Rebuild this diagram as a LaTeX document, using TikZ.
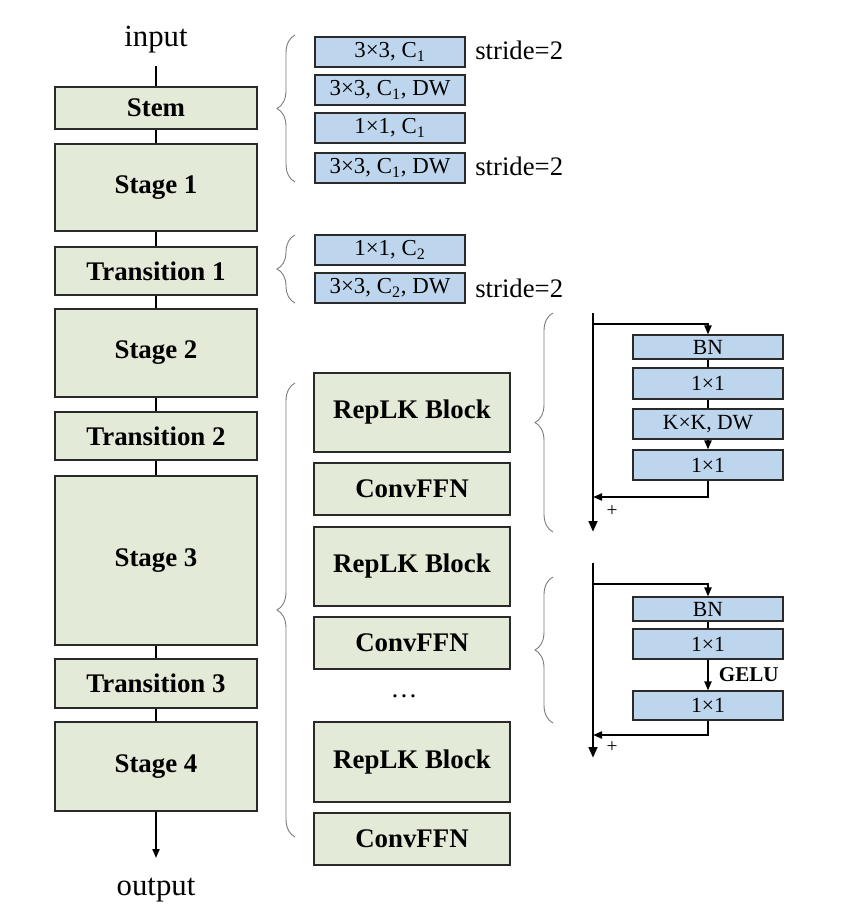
\documentclass[tikz,border=0pt]{standalone}
\usepackage{fontspec}
\setmainfont{Liberation Serif}
\usetikzlibrary{positioning, arrows.meta, decorations.pathreplacing}
\definecolor{verdeclaro}{HTML}{E3EAD8}
\definecolor{azulclaro}{HTML}{BDD6EE}
\definecolor{borde}{HTML}{2A2A2A}
\definecolor{gris}{HTML}{7A7A7A}

\begin{document}
\begin{tikzpicture}[x=0.02cm, y=-0.02cm,
				etapa/.style={draw=borde, fill=verdeclaro, line width=0.6pt, minimum width=4.04cm, inner sep=0pt, font=\fontsize{15.3}{17}\selectfont\bfseries},
				bloque/.style={etapa, minimum width=3.92cm},
				capa/.style={draw=borde, fill=azulclaro, line width=0.6pt, minimum width=3cm, minimum height=0.6cm, inner sep=0pt, font=\fontsize{13}{15}\selectfont},
				capita/.style={capa, font=\fontsize{12.3}{14}\selectfont},
				texto/.style={inner sep=0pt, font=\fontsize{17.5}{20}\selectfont},
				paso/.style={anchor=west, inner sep=0pt, font=\fontsize{15.2}{17}\selectfont},
				linea/.style={line width=1.1pt},
				flecha/.style={line width=1.1pt, -{Triangle[length=1.8mm, width=1.4mm]}},
				residual/.style={line width=1.6pt, -{Triangle[length=2.2mm, width=1.7mm]}},
				llave/.style={decorate, decoration={brace, amplitude=0.36cm}, draw=gris, line width=0.5pt}]
				\useasboundingbox (0,0) rectangle (847,907);
				\node[texto] (entrada) at (156,40) {input};
				\coordinate (inicio) at (156,66);
				\node[etapa, minimum height=0.84cm] (stem)   at (156,108)   {Stem};
				\node[etapa, minimum height=1.74cm] (etapa1) at (156,187.5) {Stage 1};
				\node[etapa, minimum height=0.96cm] (trans1) at (156,271)   {Transition 1};
				\node[etapa, minimum height=1.76cm] (etapa2) at (156,353)   {Stage 2};
				\node[etapa, minimum height=0.96cm] (trans2) at (156,436)   {Transition 2};
				\node[etapa, minimum height=3.38cm] (etapa3) at (156,560.5) {Stage 3};
				\node[etapa, minimum height=0.98cm] (trans3) at (156,683.5) {Transition 3};
				\node[etapa, minimum height=1.78cm] (etapa4) at (156,766.5) {Stage 4};
				\coordinate (fin) at (156,858);
				\node[texto] (salida) at (156,890) {output};
				\draw[linea] (inicio) -- (stem);
				\draw[linea] (stem) -- (etapa1);
				\draw[linea] (etapa1) -- (trans1);
				\draw[linea] (trans1) -- (etapa2);
				\draw[linea] (etapa2) -- (trans2);
				\draw[linea] (trans2) -- (etapa3);
				\draw[linea] (etapa3) -- (trans3);
				\draw[linea] (trans3) -- (etapa4);
				\draw[flecha] (etapa4) -- (fin);
				\node[capa] (s1) at (390,52)  {3×3, C\textsubscript{1}};
				\node[capa] (s2) at (390,90)  {3×3, C\textsubscript{1}, DW};
				\node[capa] (s3) at (390,128) {1×1, C\textsubscript{1}};
				\node[capa] (s4) at (390,168) {3×3, C\textsubscript{1}, DW};
				\node[paso] (p1) at (475,50)  {stride=2};
				\node[paso] (p2) at (475,166) {stride=2};
				\node[capa] (t1) at (390,250) {1×1, C\textsubscript{2}};
				\node[capa] (t2) at (390,288) {3×3, C\textsubscript{2}, DW};
				\node[paso] (p3) at (475,288) {stride=2};
				\node[bloque, minimum height=1.58cm] (rep1) at (412,412.5) {RepLK Block};
				\node[bloque, minimum height=1.04cm] (ffn1) at (412,489)   {ConvFFN};
				\node[bloque, minimum height=1.58cm] (rep2) at (412,566.5) {RepLK Block};
				\node[bloque, minimum height=1.04cm] (ffn2) at (412,643)   {ConvFFN};
				\node[texto, font=\fontsize{15.3}{17}\selectfont] (puntos) at (404,696) {\ldots};
				\node[bloque, minimum height=1.6cm]  (rep3) at (412,762)   {RepLK Block};
				\node[bloque, minimum height=1.04cm] (ffn3) at (412,839)   {ConvFFN};
				\draw[llave] (295,182) -- (295,35);
				\draw[llave] (295,303) -- (295,235);
				\draw[llave] (295,837) -- (295,383);
				\draw[llave] (553,532) -- (553,313);
				\draw[llave] (553,723) -- (553,577);
				\node[capita, minimum height=0.48cm] (bnA)  at (708,347)   {BN};
				\node[capita, minimum height=0.62cm] (unoA) at (708,383.5) {1×1};
				\node[capita] (kxk)  at (708,424) {K×K, DW};
				\node[capita] (dosA) at (708,465) {1×1};
				\coordinate (altoA) at (593,313);
				\coordinate (ramaA) at (593,324);
				\coordinate (sumaA) at (593,497);
				\coordinate (bajoA) at (593,532);
				\draw[residual] (altoA) -- (bajoA);
				\draw[flecha] (ramaA) -| (bnA);
				\draw[linea] (bnA) -- (unoA);
				\draw[linea] (unoA) -- (kxk);
				\draw[flecha] (kxk) -- (dosA);
				\draw[flecha] (dosA) |- (sumaA);
				\node[inner sep=0pt, font=\fontsize{11}{13}\selectfont] (masA) at (612,511) {+};
				\node[capita, minimum height=0.48cm] (bnB)  at (708,609)   {BN};
				\node[capita] (unoB) at (708,644)   {1×1};
				\node[capita, minimum height=0.58cm] (dosB) at (708,705.5) {1×1};
				\coordinate (altoB) at (593,563);
				\coordinate (ramaB) at (593,584);
				\coordinate (sumaB) at (593,735);
				\coordinate (bajoB) at (593,758);
				\draw[residual] (altoB) -- (bajoB);
				\draw[flecha] (ramaB) -| (bnB);
				\draw[linea] (bnB) -- (unoB);
				\draw[flecha] (unoB) -- node[right=0.2cm, inner sep=0pt, font=\fontsize{12}{14}\selectfont\bfseries] (gelu) {GELU} (dosB);
				\draw[flecha] (dosB) |- (sumaB);
				\node[inner sep=0pt, font=\fontsize{11}{13}\selectfont] (masB) at (612,747) {+};
			\end{tikzpicture}
\end{document}
